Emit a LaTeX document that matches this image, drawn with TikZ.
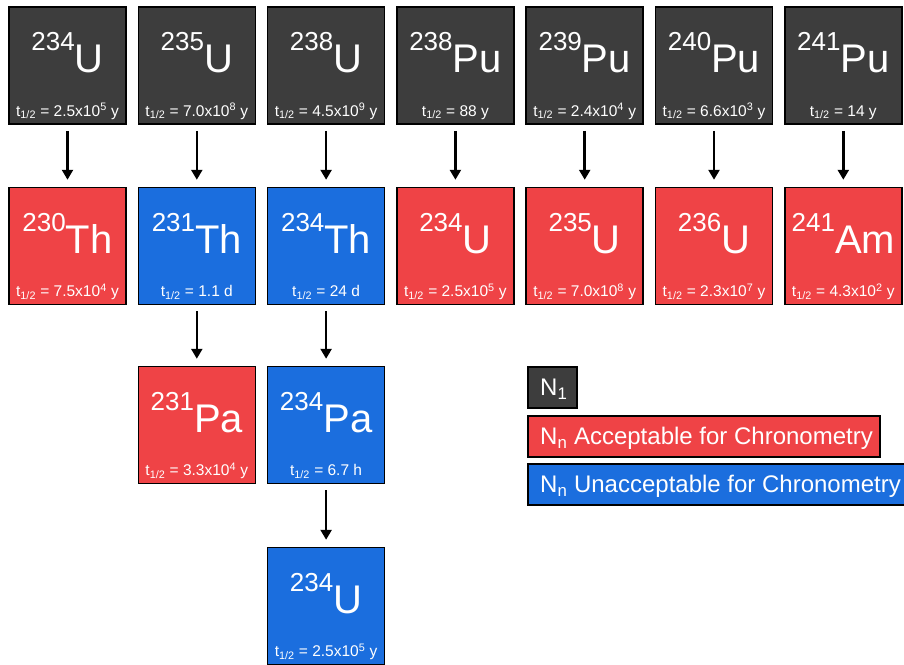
\documentclass[tikz,border=0pt]{standalone}
\usepackage{fontspec}
\setmainfont{Liberation Sans}
\usetikzlibrary{arrows.meta}

\definecolor{nucgray}{HTML}{3D3D3D}
\definecolor{nucred}{HTML}{EF4346}
\definecolor{nucblue}{HTML}{1B6EDE}

\tikzset{
	nucbox/.style={draw=black, line width=1.5pt, minimum width=117pt, minimum height=117pt, inner sep=0pt},
	parent/.style={nucbox, fill=nucgray},
	good/.style={nucbox, fill=nucred},
	bad/.style={nucbox, fill=nucblue},
	sym/.style={text=white, anchor=base, inner sep=0pt},
	half/.style={text=white, anchor=base, inner sep=0pt, font=\fontsize{15.5}{15.5}\selectfont},
	decay/.style={-{Triangle[length=10pt,width=11pt]}, line width=2.5pt, shorten <=6pt, shorten >=7pt},
	keybox/.style={draw=black, line width=1.5pt, anchor=north west, minimum height=41pt, inner sep=0pt},
	keytext/.style={text=white, anchor=base west, inner sep=0pt, font=\fontsize{24}{24}\selectfont}
}

\newcommand{\iso}[2]{{\fontsize{26}{26}\selectfont\raisebox{22pt}{#1}}{\fontsize{40}{40}\selectfont #2}}
\newcommand{\tens}[2]{#1x10\textsuperscript{#2}}
\newcommand{\nuclide}[7]{%
	\node[#1] (#2) at (#3,#4) {};
	\node[sym] (#2s) at ([yshift=-7pt]#2.center) {\iso{#5}{#6}};
	\node[half] (#2t) at ([yshift=-50.5pt]#2.center) {t\textsubscript{1/2} = #7};}

\begin{document}
\begin{tikzpicture}[x=1pt, y=-1pt]
	\useasboundingbox (0,0) rectangle (904,664);
	
	% parents
	\nuclide{parent}{ua}{67.5}{65.5}{234}{U}{\tens{2.5}{5} y}
	\nuclide{parent}{ub}{196.8}{65.5}{235}{U}{\tens{7.0}{8} y}
	\nuclide{parent}{uc}{326.1}{65.5}{238}{U}{\tens{4.5}{9} y}
	\nuclide{parent}{pua}{455.4}{65.5}{238}{Pu}{88 y}
	\nuclide{parent}{pub}{584.7}{65.5}{239}{Pu}{\tens{2.4}{4} y}
	\nuclide{parent}{puc}{714.0}{65.5}{240}{Pu}{\tens{6.6}{3} y}
	\nuclide{parent}{pud}{843.3}{65.5}{241}{Pu}{14 y}
	
	% first daughters
	\nuclide{good}{tha}{67.5}{246}{230}{Th}{\tens{7.5}{4} y}
	\nuclide{bad}{thb}{196.8}{246}{231}{Th}{1.1 d}
	\nuclide{bad}{thc}{326.1}{246}{234}{Th}{24 d}
	\nuclide{good}{ud}{455.4}{246}{234}{U}{\tens{2.5}{5} y}
	\nuclide{good}{ue}{584.7}{246}{235}{U}{\tens{7.0}{8} y}
	\nuclide{good}{uf}{714.0}{246}{236}{U}{\tens{2.3}{7} y}
	\nuclide{good}{am}{843.3}{246}{241}{Am}{\tens{4.3}{2} y}
	
	% further daughters
	\nuclide{good}{paa}{196.8}{425}{231}{Pa}{\tens{3.3}{4} y}
	\nuclide{bad}{pab}{326.1}{425}{234}{Pa}{6.7 h}
	\nuclide{bad}{ug}{326.1}{606}{234}{U}{\tens{2.5}{5} y}
	
	\draw[decay] (ua) -- (tha);
	\draw[decay] (ub) -- (thb);
	\draw[decay] (uc) -- (thc);
	\draw[decay] (pua) -- (ud);
	\draw[decay] (pub) -- (ue);
	\draw[decay] (puc) -- (uf);
	\draw[decay] (pud) -- (am);
	\draw[decay] (thb) -- (paa);
	\draw[decay] (thc) -- (pab);
	\draw[decay] (pab) -- (ug);
	
	% key
	\node[keybox, fill=nucgray, minimum width=49pt] (keyn) at (527,366) {};
	\node[keybox, fill=nucred, minimum width=352pt] (keyok) at (527,415) {};
	\node[keybox, fill=nucblue, minimum width=385pt] (keyno) at (527,463) {};
	\node[keytext] (keynt) at ([xshift=13pt, yshift=-8.5pt]keyn.west) {N\textsubscript{1}};
	\node[keytext] (keyokt) at ([xshift=13pt, yshift=-8.5pt]keyok.west) {N\textsubscript{n} Acceptable for Chronometry};
	\node[keytext] (keynot) at ([xshift=13pt, yshift=-8.5pt]keyno.west) {N\textsubscript{n} Unacceptable for Chronometry};
\end{tikzpicture}
\end{document}
